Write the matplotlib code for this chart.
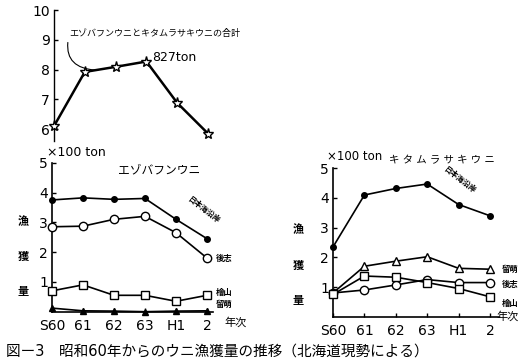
import matplotlib
matplotlib.use("Agg")
import matplotlib.pyplot as plt

plt.rcParams['font.family'] = ['DejaVu Sans', 'Noto Sans CJK JP']

years = ["S60", "61", "62", "63", "H1", "2"]
total_both = [6.10, 7.92, 8.09, 8.27, 6.88, 5.85]

ezo_total = [3.75, 3.82, 3.77, 3.80, 3.10, 2.45]
ezo_a = [2.85, 2.87, 3.10, 3.20, 2.65, 1.80]
ezo_b = [0.70, 0.90, 0.55, 0.55, 0.35, 0.55]
ezo_c = [0.12, 0.03, 0.02, 0.00, 0.02, 0.03]

kita_total = [2.35, 4.10, 4.32, 4.47, 3.78, 3.40]
kita_a = [0.80, 1.70, 1.87, 2.02, 1.63, 1.60]
kita_b = [0.80, 0.90, 1.07, 1.25, 1.15, 1.15]
kita_c = [0.75, 1.37, 1.33, 1.15, 0.95, 0.67]

W, H = 522, 360
fig = plt.figure(figsize=(W / 100, H / 100), dpi=100)


def ax_px(left, top, right, bottom):
    return fig.add_axes([left / W, 1 - bottom / H, (right - left) / W, (bottom - top) / H])


def ftext(x, y, s, **kw):
    fig.text(x / W, 1 - y / H, s, **kw)


x = list(range(len(years)))
lc = 'black'

# ---- top panel ----
ax0 = ax_px(54, 10, 54 + 5.7 * 30.8, 141)
ax0.set_xlim(0, 5.7)
ax0.set_ylim(5.6, 10)
ax0.plot(x, total_both, color=lc, lw=1.8, marker='*', ms=8, mfc='white', mec=lc, mew=1.0, clip_on=False, zorder=3)
for s in ['top', 'right', 'bottom']:
    ax0.spines[s].set_visible(False)
ax0.spines['left'].set_linewidth(1.0)
ax0.set_yticks([6, 7, 8, 9, 10])
ax0.set_xticks([])
ax0.tick_params(axis='y', direction='in', length=3, width=1, labelsize=10, pad=3)
ax0.patch.set_alpha(0)
ax0.annotate("827ton", xy=(3, 8.27), xytext=(3.2, 8.42), fontsize=9, va='center')
ax0.annotate("エゾバフンウニとキタムラサキウニの合計", xy=(1.35, 7.98), xytext=(0.5, 9.2),
             fontsize=6.5, va='center', ha='left',
             arrowprops=dict(arrowstyle='-', color=lc, lw=0.8, connectionstyle='arc3,rad=0.6',
                             shrinkA=1, shrinkB=0, relpos=(0, 0.5)))

# ---- left bottom panel ----
ax1 = ax_px(52, 162.7, 52 + 5.2 * 31, 311.7)
ax1.set_xlim(0, 5.2)
ax1.set_ylim(0, 5)
ax1.plot(x, ezo_total, color=lc, lw=1.2, marker='o', ms=4, mfc=lc, mec=lc, clip_on=False, zorder=3)
ax1.plot(x, ezo_a, color=lc, lw=1.2, marker='o', ms=6, mfc='white', mec=lc, clip_on=False, zorder=3)
ax1.plot(x, ezo_b, color=lc, lw=1.2, marker='s', ms=5.5, mfc='white', mec=lc, clip_on=False, zorder=3)
ax1.plot(x, ezo_c, color=lc, lw=1.2, marker='^', ms=4, mfc=lc, mec=lc, clip_on=False, zorder=3)

# ---- right panel ----
ax2 = ax_px(333, 168.3, 333 + 5.3 * 31.4, 316.7)
ax2.set_xlim(0, 5.3)
ax2.set_ylim(0, 5)
ax2.plot(x, kita_total, color=lc, lw=1.2, marker='o', ms=4, mfc=lc, mec=lc, clip_on=False, zorder=3)
ax2.plot(x, kita_a, color=lc, lw=1.2, marker='^', ms=6, mfc='white', mec=lc, clip_on=False, zorder=3)
ax2.plot(x, kita_b, color=lc, lw=1.2, marker='o', ms=6, mfc='white', mec=lc, clip_on=False, zorder=3)
ax2.plot(x, kita_c, color=lc, lw=1.2, marker='s', ms=5.5, mfc='white', mec=lc, clip_on=False, zorder=3)

for ax in (ax1, ax2):
    ax.spines['top'].set_visible(False)
    ax.spines['right'].set_visible(False)
    ax.spines['left'].set_linewidth(1.2)
    ax.spines['bottom'].set_linewidth(1.2)
    ax.set_yticks([1, 2, 3, 4, 5])
    ax.set_xticks(x)
    ax.set_xticklabels(years)
    ax.tick_params(axis='both', direction='in', length=3, width=1, labelsize=10)
    ax.tick_params(axis='y', pad=3)
    ax.tick_params(axis='x', pad=5)
    ax.patch.set_alpha(0)

# texts
ftext(47, 152, "×100 ton", fontsize=9, va='center', ha='left')
ftext(118, 170, "エゾバフンウニ", fontsize=8.5, va='center', ha='left')
ftext(327, 157, "×100 ton", fontsize=8.5, va='center', ha='left')
ftext(389, 160, "キ タ ム ラ サ キ ウ ニ", fontsize=7.5, va='center', ha='left')

for ch, yy in zip("漁獲量", [222, 257, 292]):
    ftext(23, yy, ch, fontsize=8, va='center', ha='center', fontweight='bold')
for ch, yy in zip("漁獲量", [230, 266, 301]):
    ftext(298, yy, ch, fontsize=8, va='center', ha='center', fontweight='bold')

ftext(224, 322, "年次", fontsize=8, va='center', ha='left')
ftext(496, 316, "年次", fontsize=8, va='center', ha='left')

ftext(204, 210, "日本海沿岸", fontsize=5.5, va='center', ha='center', rotation=-38, fontweight='bold')
ftext(216, 258, "後志", fontsize=6, va='center', ha='left', fontweight='bold')
ftext(216, 292, "檜山", fontsize=6, va='center', ha='left', fontweight='bold')
ftext(216, 304, "留萌", fontsize=6, va='center', ha='left', fontweight='bold')

ftext(460, 180, "日本海沿岸", fontsize=5.5, va='center', ha='center', rotation=-38, fontweight='bold')
ftext(502, 269, "留萌", fontsize=6, va='center', ha='left', fontweight='bold')
ftext(502, 284, "後志", fontsize=6, va='center', ha='left', fontweight='bold')
ftext(502, 303, "檜山", fontsize=6, va='center', ha='left', fontweight='bold')

ftext(6, 351, "図ー3　昭和60年からのウニ漁獲量の推移（北海道現勢による）", fontsize=10.5, va='center', ha='left')

fig.savefig("out.png", dpi=100)
